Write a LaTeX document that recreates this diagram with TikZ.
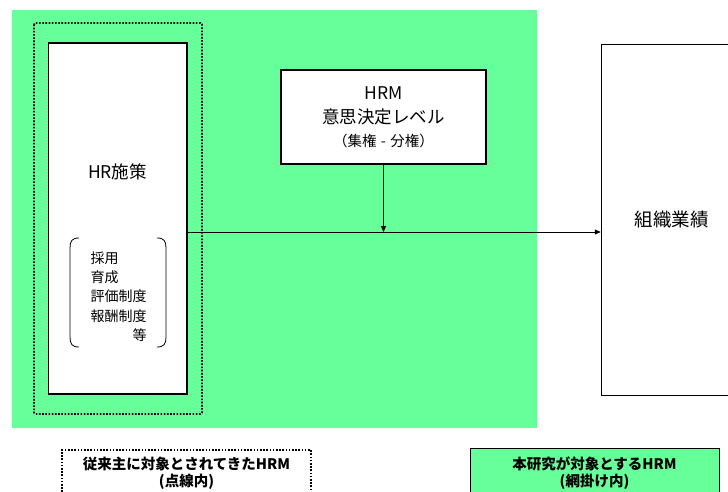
\documentclass[tikz,border=0pt]{standalone}
\usepackage{fontspec}
\setmainfont{Noto Sans CJK JP}
\usetikzlibrary{arrows.meta,calc}
\definecolor{mint}{HTML}{66FF99}
\begin{document}
\begin{tikzpicture}[x=1pt,y=-1pt,
  box/.style={draw=black,line width=1.5pt,fill=white,inner sep=0pt},
  dotframe/.style={draw=black,line width=1.8pt,dash pattern=on 1.6pt off 1.6pt},
  conn/.style={draw=black,line width=0.9pt},
  tip/.style={-{Triangle[length=6pt,width=5pt]}},
  big/.style={font=\fontsize{17.5}{24}\selectfont},
  small/.style={font=\fontsize{14}{19.3}\selectfont},
  leg/.style={font=\fontsize{14.5}{17}\selectfont\bfseries,align=center}]
\useasboundingbox (0,0) rectangle (728,492);
\clip (0,0) rectangle (728,492);
% green area
\fill[mint] (12,10) rectangle (537,428);
% dotted frame
\draw[dotframe,rounded corners=1.5pt] (34,23) rectangle (202,414);
% HR box
\node[box,minimum width=138.5pt,minimum height=351pt] (hr) at (117.75,218.5) {};
\node[big] (hrlab) at (117.5,172) {HR施策};
% bracket list
\draw[line width=0.8pt] (79,238) .. controls (72,238) and (70,241) .. (70,248) -- (70,337) .. controls (70,344) and (72,347) .. (79,347);
\draw[line width=0.8pt] (157,238) .. controls (164,238) and (166,241) .. (166,248) -- (166,337) .. controls (166,344) and (164,347) .. (157,347);
\node[small,align=left,anchor=west] (list) at (87,296.5) {採用\\育成\\評価制度\\報酬制度\\\hspace*{3em}等};
% HRM box
\node[box,minimum width=205pt,minimum height=94pt,align=center,font=\fontsize{17.5}{24}\selectfont] (hrm) at (383.5,117)
  {HRM\\意思決定レベル\\[-1pt]{\fontsize{14.5}{16}\selectfont（集権\hspace{0.3em}-\hspace{0.3em}分権）}};
% performance box
\node[box,minimum width=140.5pt,minimum height=351pt,font=\fontsize{18.5}{24}\selectfont] (perf) at (671.75,220) {組織業績};
% connectors
\coordinate (ls) at ([yshift=-13.5pt]hr.east);
\coordinate (le) at (perf.west |- ls);
\draw[conn,tip] (ls) -- (le);
\draw[conn,tip] (hrm.south) -- (hrm.south |- ls);
% legends
\node[dotframe,minimum width=249pt,minimum height=60pt,anchor=north] (leg1) at (186.5,449) {};
\node[leg] (leg1t) at (186.5,473.5) {従来主に対象とされてきたHRM\\(点線内)};
\node[draw=black,line width=0.9pt,fill=mint,minimum width=249pt,minimum height=60pt,anchor=north] (leg2) at (594.5,448) {};
\node[leg] (leg2t) at (594.5,473.5) {本研究が対象とするHRM\\(網掛け内)};
\end{tikzpicture}
\end{document}
